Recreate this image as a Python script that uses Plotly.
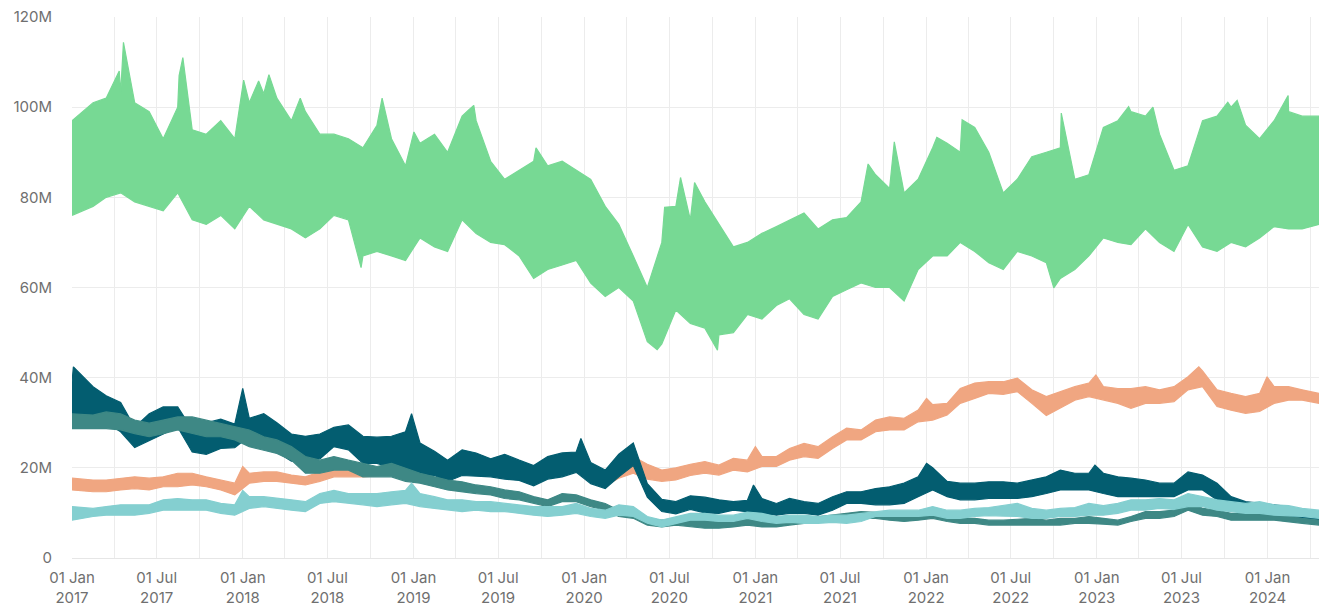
import pandas as pd
import plotly.graph_objects as go

# ---------------- data (values in millions) ----------------
# one reading per month, Jan 2017 .. Apr 2024 (upper / lower edge of each daily band)
MONTHS = [f"{2017 + m // 12}-{m % 12 + 1:02d}-15" for m in range(88)]
MONTHS[0] = "2017-01-01"
MONTHS[-1] = "2024-04-20"

GREEN_HI = [97, 101, 102, 103, 101, 99, 93, 100, 95, 94, 97, 93,
            101, 103, 102, 97, 99, 94, 94, 93, 91, 96, 93, 87,
            92, 94, 90, 98, 97, 88, 84, 86, 88, 87, 88, 86,
            84, 78, 74, 67, 60, 70, 78, 75, 79, 74, 69, 70,
            72, 73.5, 75, 76.5, 73, 75, 75.5, 79, 85, 82, 81, 84,
            91, 92, 90, 95.5, 90, 81, 84, 89, 90, 91, 84, 85,
            95.5, 97, 99, 98, 94, 86, 87, 97, 98, 100, 96, 93,
            97, 99, 98, 98]
GREEN_LO = [76, 78, 80, 81, 79, 78, 77, 81, 75, 74, 76, 73,
            78, 75, 74, 73, 71, 73, 76, 75, 67, 68, 67, 66,
            71, 69, 68, 75, 72, 70, 69.5, 67, 62, 64, 65, 66,
            61, 58, 60, 57, 48, 47.5, 55, 52, 51, 49.5, 50, 54,
            53, 56, 57.5, 54, 53, 58, 59.5, 61, 60, 60, 57, 64,
            67, 67, 70, 68, 65.5, 64, 68, 67, 65.5, 62, 64, 67,
            71, 70, 69.5, 73, 70, 68, 74, 69, 68, 70, 69, 71,
            73.5, 73, 73, 74]
GREEN_PEAK_DATES = ["2017-04-12", "2017-04-21", "2017-08-18", "2017-08-26", "2018-01-03",
                    "2018-02-04", "2018-02-26", "2018-05-04", "2018-10-26", "2019-01-02",
                    "2019-04-28", "2019-05-10", "2019-09-20", "2020-06-21", "2020-07-25",
                    "2020-08-24", "2021-08-30", "2021-10-25", "2022-01-24", "2022-03-19",
                    "2022-10-17", "2023-03-10", "2023-05-01", "2023-10-08", "2023-10-28",
                    "2024-02-14"]
GREEN_PEAK_VALUES = [108, 114.4, 107, 111, 106, 105.8, 107.2, 102, 102, 94.5,
                     99.3, 100.4, 91, 77.8, 84.4, 83.3, 87.4, 92.3, 93.3, 97.2,
                     98.7, 100.1, 100, 101.1, 101.5, 102.6]
GREEN_DIP_DATES = ["2018-09-11", "2020-06-05", "2020-10-12", "2022-10-01"]
GREEN_DIP_VALUES = [64.4, 46.2, 46.1, 59.9]

SALMON_HI = [17.7, 17.3, 17.3, 17.7, 18, 17.7, 18, 18.8, 18.8, 18, 17.3, 16.6,
             18.8, 19.1, 19.1, 18.4, 18, 19.1, 20.3, 19.5, 19.5, 20, 21, 20.8,
             20.5, 20, 19.5, 20, 19.8, 19.8, 19.5, 19.5, 19, 19.5, 19.8, 20,
             19.5, 19, 21, 22.5, 20.8, 19.5, 20, 20.8, 21.4, 20.6, 22.1, 21.7,
             22.5, 22.5, 24.3, 25.4, 24.7, 26.9, 28.8, 28.4, 30.6, 31.3, 31, 32.8,
             34, 34.3, 37.6, 38.8, 39.1, 39.1, 39.9, 37.3, 35.8, 36.9, 38, 38.8,
             38, 37.6, 37.6, 38, 37.3, 38, 40.2, 41.5, 37.3, 36.5, 35.8, 36.5,
             38, 38, 37.3, 36.5]
SALMON_LO = [15.1, 14.7, 14.7, 15.1, 15.4, 15.1, 15.8, 15.8, 16.2, 15.8, 15.1, 14,
             16.6, 17, 17, 16.6, 16.2, 17, 18, 18, 18, 18.3, 18.5, 18.5,
             18.8, 18.6, 17.5, 18.6, 18.5, 18.3, 17.8, 17.5, 16.5, 17.8, 18.3, 19.2,
             17, 16, 17.7, 18.8, 17.5, 17, 17.3, 18.3, 18.8, 18.4, 19.5, 19.1,
             20.3, 20.3, 21.7, 22.5, 22.1, 24.3, 26.2, 26.2, 28, 28.4, 28.4, 30.2,
             30.6, 31.7, 34.3, 35.4, 36.5, 36.3, 36.9, 34.3, 31.6, 33.2, 35, 35.8,
             35, 34.3, 33.2, 34.3, 34.3, 34.7, 37.3, 38, 33.6, 32.8, 32.1, 32.5,
             34.3, 35, 35, 34.3]
SALMON_PEAK_DATES = ["2018-01-01", "2021-01-01", "2022-01-02", "2022-12-30", "2023-08-07", "2023-12-31"]
SALMON_PEAK_VALUES = [20.3, 24.7, 35.4, 40.6, 42.4, 40.2]

DARK_HI = [39, 38, 36, 34.5, 29, 32, 33.5, 33.5, 28.5, 30, 30.8, 29.7,
           31, 32, 30, 27.5, 27, 27.5, 29, 29.5, 27, 26.8, 27, 28,
           25.5, 23.7, 21.7, 24, 23.3, 22, 23, 21.7, 20.5, 22.5, 23.3, 23.5,
           21.2, 19.5, 23, 25.5, 16.5, 13, 12.5, 13.8, 13.5, 12.9, 12.5, 12.8,
           13.2, 12.1, 13.2, 12.5, 12.1, 13.6, 14.7, 14.7, 15.4, 15.8, 16.6, 18,
           20, 17, 16.6, 16.6, 16.9, 16.9, 16.6, 17.3, 18, 19.5, 18.8, 18.8,
           18.8, 18, 17.7, 17.3, 16.6, 16.6, 19.1, 18.4, 16.6, 13.6, 12.5, 12.1,
           11.8, 11.4, 10.6, 9.9]
DARK_LO = [30.6, 31.5, 30, 28, 24.5, 26, 27.5, 29, 23.5, 23, 24.3, 24.5,
           27, 25.8, 23.5, 21.5, 21.5, 22, 24.7, 24, 21, 21, 20, 19.5,
           18.5, 18.3, 17, 18.3, 18.2, 18, 17.5, 17.2, 16, 17.5, 18, 19,
           16.5, 15.4, 18, 20.5, 13.5, 10.3, 9.8, 10.8, 10, 9.9, 10.6, 10.2,
           9.9, 9.5, 9.9, 9.9, 9.5, 10.6, 12.1, 12.1, 11.8, 11.8, 12.1, 13.6,
           15.1, 13.6, 12.9, 12.9, 13.2, 13.2, 13.2, 13.6, 14.3, 15.1, 15.1, 15.1,
           14.3, 13.6, 13.6, 13.6, 13.6, 13.6, 15.1, 15.1, 12.9, 12.1, 11, 10.6,
           9.9, 9.2, 8.8, 7.5]
DARK_PEAK_DATES = ["2017-01-04", "2018-01-01", "2018-12-28", "2019-12-25", "2020-12-28", "2022-01-02", "2022-12-28"]
DARK_PEAK_VALUES = [42.4, 37.6, 32, 26.5, 16.2, 21, 20.6]

TEAL_HI = [32, 31.7, 32.4, 32, 30.6, 29.9, 30.6, 31.3, 31.3, 30.6, 29.9, 29.1,
           28.4, 26.9, 26.2, 24.7, 22.5, 21.7, 22.5, 21.7, 21, 20.3, 21, 19.9,
           18.8, 18, 17.3, 16.9, 16.2, 15.8, 15.1, 14.7, 13.6, 12.9, 14.3, 14,
           12.9, 12.1, 10.6, 9.9, 8.8, 8.4, 8.8, 8.4, 8.4, 8.1, 8.4, 8.8,
           8.1, 8.1, 8.4, 8.8, 9.2, 9.5, 9.9, 10.3, 10.1, 9.5, 9.5, 9.9,
           9.9, 9.2, 8.8, 8.8, 8.4, 8.4, 8.6, 8.8, 8.4, 8.8, 8.8, 9.2,
           8.8, 8.4, 9.2, 10.3, 10.3, 10.6, 12.9, 11, 10.6, 9.9, 9.9, 9.9,
           9.7, 9.2, 8.8, 8.4]
TEAL_LO = [28.7, 28.7, 28.7, 28.4, 27.6, 26.9, 27.6, 28.4, 27.6, 26.9, 26.9, 26.2,
           24.7, 23.9, 23.2, 21.7, 18.8, 18.8, 19.5, 19.5, 18, 18, 18, 17,
           16.6, 15.8, 15.1, 14.7, 14.3, 14, 13.2, 12.9, 12.1, 11.4, 12.5, 12.5,
           11.4, 10.6, 9.2, 8.8, 7.3, 6.9, 7.3, 6.9, 6.6, 6.6, 6.9, 7.3,
           6.9, 6.9, 7.3, 7.7, 8.1, 8.4, 8.8, 8.8, 8.8, 8.4, 8.1, 8.4,
           8.8, 8.1, 7.7, 7.7, 7.3, 7.3, 7.3, 7.3, 7.3, 7.3, 7.7, 7.7,
           7.5, 7.3, 8.1, 8.8, 8.8, 9.2, 10.6, 9.5, 9.2, 8.4, 8.4, 8.4,
           8.4, 8.1, 7.7, 7.3]

CYAN_HI = [11.4, 11, 11.4, 11.8, 11.8, 11.8, 12.9, 13.2, 12.9, 12.9, 12.1, 11.8,
           13.6, 13.6, 13.2, 12.9, 12.5, 14.3, 15, 14.3, 14.3, 14.3, 14.7, 15,
           14.3, 13.6, 12.9, 12.9, 12.5, 12.5, 12.1, 11.8, 11.4, 11.4, 11.4, 12.1,
           11, 10.6, 11.8, 11.4, 9.2, 8.4, 9.2, 9.9, 9.9, 9.5, 9.5, 10.2,
           9.9, 9.2, 9.5, 9.5, 9.2, 9.5, 9.5, 9.9, 10.3, 10.6, 10.6, 10.6,
           11.4, 10.6, 10.6, 11, 11.2, 11.6, 12.1, 11, 10.6, 11, 11.2, 12.1,
           11.6, 12.1, 12.9, 12.9, 13.2, 12.9, 14.3, 13.6, 12.9, 12.5, 12.1, 12.5,
           11.8, 11.6, 11, 10.6]
CYAN_LO = [8.4, 9.2, 9.5, 9.5, 9.5, 9.9, 10.6, 10.6, 10.6, 10.6, 9.9, 9.5,
           11, 11.4, 11, 10.6, 10.3, 12.1, 12.5, 12.1, 11.8, 11.4, 11.8, 12.1,
           11.4, 11, 10.6, 10.3, 10.6, 10.3, 10.3, 9.9, 9.5, 9.2, 9.5, 9.9,
           9.2, 8.8, 9.5, 9.2, 7.7, 6.9, 7.7, 8.4, 8.4, 8.1, 8.1, 8.8,
           8.1, 7.7, 7.9, 7.7, 7.7, 7.9, 7.7, 8.1, 9.2, 9.2, 9.2, 9.2,
           9.5, 8.8, 8.8, 9.2, 9.4, 9.3, 9.2, 8.8, 8.8, 9.2, 9.2, 9.5,
           9.5, 9.9, 10.6, 10.6, 11, 10.8, 11.4, 11.4, 10.6, 10.3, 9.9, 9.9,
           9.5, 9.4, 9.2, 8.8]
CYAN_PEAK_DATES = ["2018-01-01", "2018-12-28"]
CYAN_PEAK_VALUES = [15, 16.6]

Y_TICKS = [0, 20, 40, 60, 80, 100, 120]
Y_TICK_TEXT = ["0", "20M", "40M", "60M", "80M", "100M", "120M"]

SERIES = [
    ("green", "#77d994", GREEN_HI, GREEN_LO, GREEN_PEAK_DATES, GREEN_PEAK_VALUES, GREEN_DIP_DATES, GREEN_DIP_VALUES),
    ("salmon", "#f0a681", SALMON_HI, SALMON_LO, SALMON_PEAK_DATES, SALMON_PEAK_VALUES, [], []),
    ("dark", "#035d70", DARK_HI, DARK_LO, DARK_PEAK_DATES, DARK_PEAK_VALUES, [], []),
    ("teal", "#3e8885", TEAL_HI, TEAL_LO, [], [], [], []),
    ("cyan", "#84cfd0", CYAN_HI, CYAN_LO, CYAN_PEAK_DATES, CYAN_PEAK_VALUES, [], []),
]


def edge(vals, extra_dates, extra_vals):
    pts = list(zip(pd.to_datetime(MONTHS), vals)) + list(zip(pd.to_datetime(extra_dates), extra_vals))
    pts.sort(key=lambda p: p[0])
    return [p[0] for p in pts], [p[1] for p in pts]


fig = go.Figure()
for name, color, hi, lo, pk_d, pk_v, dp_d, dp_v in SERIES:
    hx, hy = edge(hi, pk_d, pk_v)
    lx, ly = edge(lo, dp_d, dp_v)
    fig.add_trace(go.Scatter(
        x=hx + lx[::-1], y=hy + ly[::-1],
        mode="lines", fill="toself", fillcolor=color,
        line=dict(color=color, width=1.2),
        name=name, showlegend=False, hoverinfo="skip",
    ))

font_color = "#6f6f6f"
fig.update_layout(
    width=1319, height=609,
    margin=dict(l=72, r=0, t=17, b=51),
    paper_bgcolor="white", plot_bgcolor="white",
    font=dict(family="Inter, 'Noto Sans', sans-serif", size=15, color=font_color),
    showlegend=False,
)
fig.update_xaxes(
    type="date", range=["2017-01-01", "2024-04-20"],
    tick0="2017-01-01", dtick="M6", tickformat="%d %b<br>%Y",
    showgrid=True, gridcolor="#ececec", gridwidth=1,
    minor=dict(dtick="M3", showgrid=True, gridcolor="#ececec", gridwidth=1),
    ticks="outside", ticklen=6, tickcolor="rgba(0,0,0,0)",
    showline=False, zeroline=False,
    tickfont=dict(size=15, color=font_color),
)
fig.update_yaxes(
    range=[0, 120], tickvals=Y_TICKS, ticktext=Y_TICK_TEXT,
    showgrid=True, gridcolor="#ececec", gridwidth=1,
    zeroline=True, zerolinecolor="#e6e6e6", zerolinewidth=1,
    ticks="outside", ticklen=16, tickcolor="rgba(0,0,0,0)",
    showline=False,
    tickfont=dict(size=15, color=font_color),
)

fig.write_html(
    "out.html",
    config={"displayModeBar": False, "responsive": False},
    post_script="document.body.style.margin='0';document.body.style.overflow='hidden';",
)
